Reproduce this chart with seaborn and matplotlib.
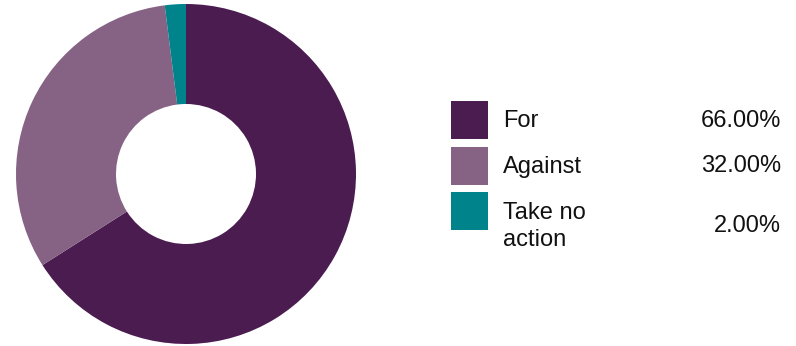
import matplotlib
matplotlib.use("Agg")
import matplotlib.pyplot as plt
import seaborn as sns
from matplotlib.patches import Rectangle

categories = ["For", "Against", "Take no\naction"]
values = [66.0, 32.0, 2.0]
pct_labels = ["66.00%", "32.00%", "2.00%"]
colors = ["#4B1C50", "#866285", "#00838A"]

sns.set_theme(style="white")
plt.rcParams['font.family'] = ['Liberation Sans', 'DejaVu Sans']
palette = sns.color_palette(colors)

W, H = 796, 346
fig = plt.figure(figsize=(W / 100, H / 100), dpi=100)
fig.patch.set_facecolor("white")

# donut axes: centre (186,174), outer radius 170 px
cx, cy, r = 186, 174, 170
ax = fig.add_axes([(cx - r) / W, (H - cy - r) / H, 2 * r / W, 2 * r / H])
ax.pie(values, colors=palette, startangle=90, counterclock=False,
       radius=1.0, wedgeprops=dict(width=1 - 70 / 170, linewidth=0, edgecolor="none"))
ax.set_xlim(-1, 1)
ax.set_ylim(-1, 1)
ax.set_aspect("equal")
ax.axis("off")

# legend axes in pixel coordinates
lax = fig.add_axes([0, 0, 1, 1])
lax.set_xlim(0, W)
lax.set_ylim(H, 0)
lax.axis("off")
fs = 17
for i, (cat, pct, col) in enumerate(zip(categories, pct_labels, palette)):
    top = 101 + i * 45.5
    lax.add_patch(Rectangle((451, top), 37, 38, facecolor=col, edgecolor="none"))
    nlines = cat.count("\n") + 1
    yc = top + 20 + (nlines - 1) * 14.5
    lax.text(503, yc, cat, fontsize=fs, va="center", ha="left", color="#111111",
             linespacing=1.3)
    lax.text(781, yc, pct, fontsize=fs, va="center", ha="right", color="#111111")

fig.savefig("out.png", dpi=100, facecolor="white")
